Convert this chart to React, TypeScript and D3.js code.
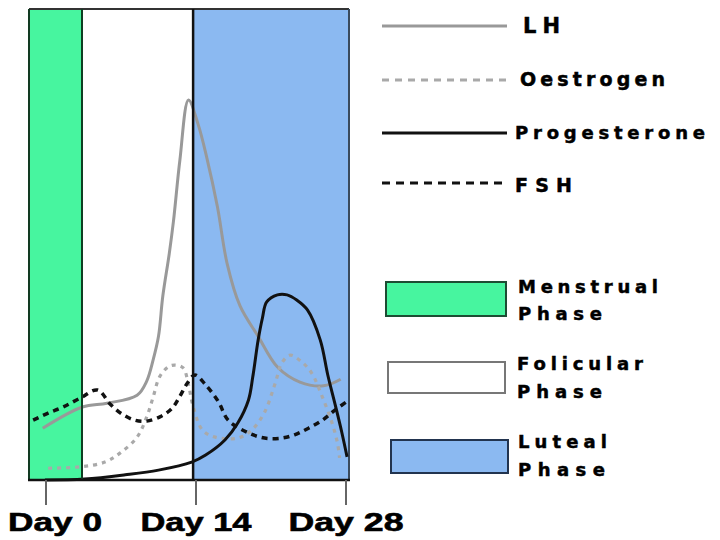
import React from "react";
import * as d3 from "d3";

// ---- data ----
const dayTicks = [0, 14, 28];
const dayTickLabels = ["Day 0", "Day 14", "Day 28"];

const seriesNames = ["LH", "Oestrogen", "Progesterone", "FSH"];

const lhPoints: [number, number][] = [
  [-0.3, 11], [3.4, 15.5], [5.7, 16.3], [8.5, 18], [9.4, 21], [10.0, 25.5],
  [10.5, 30.5], [10.9, 39], [11.5, 48], [11.9, 55], [12.5, 68], [13.3, 80.7],
  [14.2, 75.5], [15.0, 68.5], [16.0, 58], [16.9, 46], [18.1, 37], [19.8, 30.5],
  [21.6, 24], [23.7, 20.8], [25.9, 20], [27.5, 21.4],
];

const oestrogenPoints: [number, number][] = [
  [0.2, 2.5], [3.2, 2.8], [5.5, 3.8], [6.9, 5.7], [8.5, 9.1], [9.4, 13.4],
  [10.0, 17.6], [10.6, 21.9], [11.4, 24.0], [12.0, 24.4], [12.8, 23.8],
  [13.3, 20.2], [13.7, 15.9], [14.6, 10.6], [15.8, 9.1], [17.9, 8.9],
  [19.2, 10.6], [20.4, 14.4], [21.4, 20.6], [22.0, 24.8], [22.8, 26.5],
  [23.9, 25], [24.8, 22.7], [25.8, 17.6], [26.7, 12.1], [27.2, 7.9], [27.4, 4.7],
];

const progesteronePoints: [number, number][] = [
  [-0.1, 0], [3.6, 0.2], [7.4, 1.1], [10.5, 2.1], [13.6, 3.8], [14.9, 5.3],
  [16.7, 8.5], [17.9, 12.1], [18.9, 17], [19.3, 21.9], [19.8, 29.7],
  [20.2, 34.4], [20.6, 37.8], [21.6, 39.3], [22.5, 39.3], [23.4, 38.2],
  [24.4, 36.1], [25.6, 29.7], [26.3, 22.3], [27.0, 15.9], [27.6, 10.2], [28.1, 4.9],
];

const fshPoints: [number, number][] = [
  [-1.2, 12.7], [0.2, 14.2], [1.6, 15.5], [3.2, 17.4], [4.8, 19.1], [6.0, 16.1],
  [7.1, 14.0], [8.3, 12.7], [9.4, 12.5], [10.8, 13.6], [11.8, 15.3],
  [12.5, 17.8], [13.2, 20.6], [13.9, 22.3], [14.9, 20.2], [16.1, 16.6],
  [17.0, 12.7], [18.9, 10.0], [20.4, 8.9], [22.0, 8.9], [23.2, 9.6],
  [24.5, 11.0], [25.8, 12.7], [27.0, 14.9], [28.3, 17.0],
];

const phaseNames = ["Menstrual", "Folicular", "Luteal"];
const phaseStarts = [-1.6, 3.36, 13.73];
const phaseEnds = [3.36, 13.73, 28.3];

// ---- styles / layout ----
const FONT = "'Liberation Sans', Arial, sans-serif";
const LFONT = "'DejaVu Sans', Verdana, sans-serif";
const phaseFill = ["#47F59F", "#FFFFFF", "#8BB9F1"];
const phaseStroke = ["#1d4d33", "#777777", "#22344f"];
const seriesStyle = [
  { stroke: "#999999", width: 3, dash: null, legendDash: null },
  { stroke: "#a9a9a9", width: 3.2, dash: "4,5", legendDash: "7,6" },
  { stroke: "#111111", width: 3, dash: null, legendDash: null },
  { stroke: "#111111", width: 3.5, dash: "6,5", legendDash: "8,6" },
];
const legendLayout = [
  { y: 26, tx: 523, ty: 33, tw: 37, fs: 21 },
  { y: 80, tx: 520, ty: 86, tw: 145, fs: 19 },
  { y: 133, tx: 515, ty: 139, tw: 190, fs: 18 },
  { y: 183, tx: 515, ty: 192, tw: 57, fs: 19 },
];
const phaseLegendLayout = [
  { x: 386, y: 282, w: 120, h: 34, tx: 518, ty1: 293, ty2: 320, tw1: 140, tw2: 84 },
  { x: 388, y: 362, w: 117, h: 31, tx: 517, ty1: 370, ty2: 398, tw1: 126, tw2: 85 },
  { x: 391, y: 440, w: 117, h: 33, tx: 518, ty1: 448, ty2: 476, tw1: 89, tw2: 87 },
];

export default function App() {
  const left = 29, right = 349, top = 9, bottom = 480;
  const x = d3.scaleLinear().domain([0, 28]).range([46, 346]);
  const y = d3.scaleLinear().domain([0, 100]).range([bottom, top]);
  const line = d3
    .line<[number, number]>()
    .x((d) => x(d[0]))
    .y((d) => y(d[1]))
    .curve(d3.curveCatmullRom.alpha(0.5));
  const allSeries = [lhPoints, oestrogenPoints, progesteronePoints, fshPoints];
  const labelW = [94, 111, 115];

  return (
    <div style={{ position: "absolute", left: 0, top: 0, width: 720, height: 540, background: "#fff" }}>
      <svg width={720} height={540} style={{ display: "block" }}>
        <rect x={0} y={0} width={720} height={540} fill="#ffffff" />
        {/* phase bands */}
        {phaseNames.map((p, i) => (
          <rect
            key={p}
            x={x(phaseStarts[i])}
            y={top}
            width={x(phaseEnds[i]) - x(phaseStarts[i])}
            height={bottom - top}
            fill={phaseFill[i]}
          />
        ))}
        {/* frame */}
        <line x1={left} x2={right} y1={top} y2={top} stroke="#333" strokeWidth={2} />
        <line x1={left} x2={left} y1={top} y2={bottom} stroke="#123a22" strokeWidth={2} />
        <line x1={right} x2={right} y1={top} y2={bottom} stroke="#3a4a5c" strokeWidth={2} />
        {/* series lines */}
        {allSeries.map((pts, i) => (
          <path
            key={seriesNames[i]}
            d={line(pts) || ""}
            fill="none"
            stroke={seriesStyle[i].stroke}
            strokeWidth={seriesStyle[i].width}
            strokeDasharray={seriesStyle[i].dash || undefined}
            strokeLinejoin="round"
          />
        ))}
        {/* phase boundaries */}
        <line x1={x(phaseEnds[0])} x2={x(phaseEnds[0])} y1={top} y2={bottom} stroke="#0f3f22" strokeWidth={2} />
        <line x1={x(phaseEnds[1])} x2={x(phaseEnds[1])} y1={top} y2={bottom} stroke="#111" strokeWidth={2.5} />
        <line x1={left - 1} x2={right + 1} y1={bottom} y2={bottom} stroke="#111" strokeWidth={2.5} />
        {/* x axis ticks */}
        {dayTicks.map((d, i) => {
          const cx = Math.max(x(d), 8 + labelW[i] / 2);
          return (
            <g key={d}>
              <line x1={x(d)} x2={x(d)} y1={bottom} y2={505} stroke="#666" strokeWidth={2} />
              <text
                x={cx}
                y={531}
                textAnchor="middle"
                fontFamily={FONT}
                fontWeight="bold"
                fontSize={26}
                textLength={labelW[i]}
                lengthAdjust="spacingAndGlyphs"
                fill="#000"
                stroke="#000"
                strokeWidth={0.6}
              >
                {dayTickLabels[i]}
              </text>
            </g>
          );
        })}
        {/* series legend */}
        {seriesNames.map((n, i) => (
          <g key={n}>
            <line
              x1={382}
              x2={507}
              y1={legendLayout[i].y}
              y2={legendLayout[i].y}
              stroke={seriesStyle[i].stroke}
              strokeWidth={3}
              strokeDasharray={seriesStyle[i].legendDash || undefined}
            />
            <text
              x={legendLayout[i].tx}
              y={legendLayout[i].ty}
              fontFamily={LFONT}
              fontWeight="bold"
              fontSize={legendLayout[i].fs}
              textLength={legendLayout[i].tw}
              lengthAdjust="spacing"
              fill="#000"
              stroke="#000"
              strokeWidth={0.5}
            >
              {n}
            </text>
          </g>
        ))}
        {/* phase legend */}
        {phaseNames.map((p, i) => {
          const L = phaseLegendLayout[i];
          return (
            <g key={p}>
              <rect x={L.x} y={L.y} width={L.w} height={L.h} fill={phaseFill[i]} stroke={phaseStroke[i]} strokeWidth={2} />
              <text x={L.tx} y={L.ty1} fontFamily={LFONT} fontWeight="bold" fontSize={18} textLength={L.tw1} lengthAdjust="spacing" fill="#000" stroke="#000" strokeWidth={0.5}>
                {p}
              </text>
              <text x={L.tx} y={L.ty2} fontFamily={LFONT} fontWeight="bold" fontSize={18} textLength={L.tw2} lengthAdjust="spacing" fill="#000" stroke="#000" strokeWidth={0.5}>
                Phase
              </text>
            </g>
          );
        })}
      </svg>
    </div>
  );
}
